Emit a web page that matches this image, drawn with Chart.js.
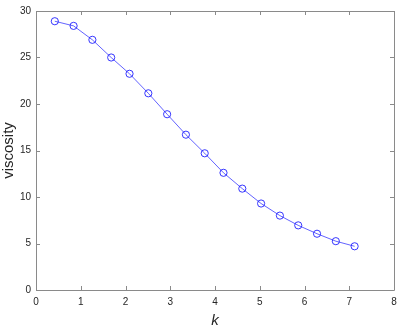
<!DOCTYPE html>
<html>
<head>
<meta charset="utf-8">
<script src="https://cdn.jsdelivr.net/npm/chart.js@4"></script>
<style>
  html, body { margin: 0; padding: 0; background: #fff; }
  #wrap { width: 399px; height: 330px; }
</style>
</head>
<body>
<div id="wrap"><canvas id="chart" width="399" height="330"></canvas></div>
<script>
// k values and viscosity
const kValues = [0.42, 0.84, 1.26, 1.68, 2.09, 2.51, 2.93, 3.35, 3.77, 4.19, 4.61, 5.03, 5.45, 5.86, 6.28, 6.70, 7.12];
const viscosity = [28.9, 28.4, 26.9, 25.0, 23.25, 21.15, 18.9, 16.7, 14.7, 12.6, 10.9, 9.3, 8.0, 6.95, 6.05, 5.25, 4.7];
const xTicks = [0, 1, 2, 3, 4, 5, 6, 7, 8];
const yTicks = [0, 5, 10, 15, 20, 25, 30];

const points = kValues.map((k, i) => ({ x: k, y: viscosity[i] }));

const axisColor = '#8a8a8a';
const textColor = '#262626';
const fontFamily = 'Liberation Sans, Arial, sans-serif';

// box around the axes with inward tick marks (matlab style)
const boxPlugin = {
  id: 'box',
  afterDraw(chart) {
    const { ctx, chartArea: a, scales } = chart;
    const len = 4;
    ctx.save();
    ctx.strokeStyle = axisColor;
    ctx.lineWidth = 1;
    ctx.beginPath();
    ctx.rect(Math.round(a.left) + 0.5, Math.round(a.top) + 0.5,
      Math.round(a.right - a.left), Math.round(a.bottom - a.top));
    xTicks.forEach(v => {
      const px = Math.round(scales.x.getPixelForValue(v)) + 0.5;
      ctx.moveTo(px, a.bottom); ctx.lineTo(px, a.bottom - len);
      ctx.moveTo(px, a.top); ctx.lineTo(px, a.top + len);
    });
    yTicks.forEach(v => {
      const py = Math.round(scales.y.getPixelForValue(v)) + 0.5;
      ctx.moveTo(a.left, py); ctx.lineTo(a.left + len, py);
      ctx.moveTo(a.right, py); ctx.lineTo(a.right - len, py);
    });
    ctx.stroke();
    ctx.restore();
  }
};

new Chart(document.getElementById('chart').getContext('2d'), {
  type: 'scatter',
  data: {
    datasets: [{
      data: points,
      showLine: true,
      borderColor: '#2020ff',
      borderWidth: 0.7,
      pointStyle: 'circle',
      pointRadius: 3.6,
      pointBorderWidth: 0.9,
      pointBorderColor: '#2020ff',
      pointBackgroundColor: 'rgba(0,0,0,0)',
      tension: 0
    }]
  },
  options: {
    responsive: false,
    animation: false,
    layout: { padding: { top: 10, right: 5, left: 0, bottom: 0 } },
    plugins: { legend: { display: false }, tooltip: { enabled: false } },
    scales: {
      x: {
        type: 'linear',
        min: 0, max: 8,
        afterBuildTicks: s => { s.ticks = xTicks.map(v => ({ value: v })); },
        afterFit: s => { s.height = 40; s.paddingLeft = 0; s.paddingRight = 0; },
        grid: { display: false, drawTicks: false },
        border: { display: false },
        ticks: {
          autoSkip: false, maxRotation: 0, padding: 6,
          color: textColor,
          font: { family: fontFamily, size: 10 }
        },
        title: {
          display: true, text: 'k', color: textColor,
          padding: { top: 0, bottom: 0 },
          font: { family: fontFamily, size: 15, style: 'italic' }
        }
      },
      y: {
        type: 'linear',
        min: 0, max: 30,
        afterBuildTicks: s => { s.ticks = yTicks.map(v => ({ value: v })); },
        afterFit: s => { s.width = 36; },
        grid: { display: false, drawTicks: false },
        border: { display: false },
        ticks: {
          autoSkip: false, padding: 5,
          color: textColor,
          font: { family: fontFamily, size: 10 }
        },
        title: {
          display: true, text: 'viscosity', color: textColor,
          padding: 0,
          font: { family: fontFamily, size: 15 }
        }
      }
    }
  },
  plugins: [boxPlugin]
});
</script>
</body>
</html>
